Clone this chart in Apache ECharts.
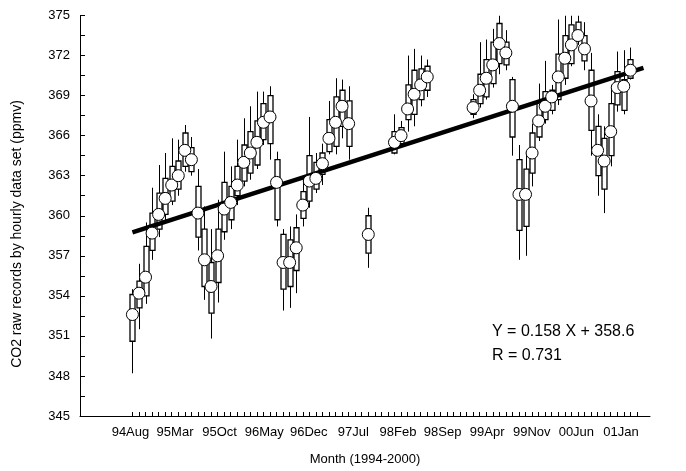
<!DOCTYPE html>
<html>
<head>
<meta charset="utf-8">
<script src="https://cdn.jsdelivr.net/npm/echarts@6.0.0/dist/echarts.min.js"></script>
<style>
    html, body { margin: 0; padding: 0; background: #fff; }
    #chart { width: 686px; height: 471px; }
</style>
</head>
<body>
<div id="chart"></div>
<script>
// month index, 0 = 1994 Aug
const months = [0, 1, 2, 3, 4, 5, 6, 7, 8, 9, 10, 11, 12, 13, 14, 15, 16, 17, 18, 19, 20, 21, 22, 23, 24, 25, 26, 27, 28, 29, 30, 31, 32, 33,
    36,
    40, 41, 42, 43, 44, 45,
    52, 53, 54, 55, 56, 57, 58, 59, 60, 61, 62, 63, 64, 65, 66, 67, 68, 69, 70, 71, 72, 73, 74, 75, 76];
const means = [352.6, 354.2, 355.4, 358.7, 360.1, 361.3, 362.3, 363.0, 364.9, 364.2, 360.2, 356.7, 354.7, 357.0, 360.5, 361.0, 362.3, 364.0, 364.7, 365.5, 367.0, 367.4, 362.5, 356.5, 356.5, 357.6, 360.8, 362.6, 362.8, 363.9, 365.8, 367.0, 368.2, 366.9,
    358.6,
    365.5, 366.0, 368.0, 369.1, 369.8, 370.4,
    368.1, 369.4, 370.3, 371.3, 372.9, 372.2, 368.2, 361.6, 361.6, 364.7, 367.1, 368.2, 368.9, 370.4, 371.8, 372.8, 373.5, 372.5, 368.6, 364.9, 364.1, 366.3, 369.6, 369.7, 370.9];
const lows = [348.2, 351.5, 353.4, 356.7, 358.4, 359.6, 360.8, 361.5, 363.3, 363.0, 357.4, 353.7, 350.8, 353.5, 358.2, 359.0, 360.8, 362.2, 362.7, 363.5, 365.3, 364.2, 359.2, 352.9, 353.1, 354.2, 359.2, 360.6, 361.7, 362.3, 364.6, 364.6, 365.8, 364.2,
    356.1,
    364.6, 365.2, 366.3, 366.7, 368.2, 368.9,
    367.3, 368.1, 368.7, 369.6, 370.6, 370.9, 364.5, 356.7, 357.0, 362.2, 365.6, 366.9, 367.6, 368.3, 369.8, 371.2, 372.8, 370.9, 364.5, 361.5, 360.2, 363.7, 367.8, 367.6, 370.2];
const q1s = [350.6, 353.1, 354.0, 357.4, 359.0, 360.1, 361.1, 362.0, 363.7, 363.3, 358.4, 354.7, 352.7, 355.0, 358.8, 359.7, 361.5, 362.6, 363.2, 363.8, 365.7, 365.4, 359.7, 354.5, 354.7, 355.9, 359.8, 361.1, 362.0, 363.1, 364.8, 365.2, 366.7, 365.2,
    357.2,
    364.7, 365.4, 367.2, 367.6, 368.7, 369.4,
    367.6, 368.4, 368.9, 369.9, 371.4, 371.3, 365.9, 358.9, 359.2, 363.2, 365.9, 367.2, 367.9, 368.7, 370.3, 371.4, 373.2, 371.6, 366.4, 363.0, 362.0, 364.5, 368.3, 367.9, 370.3];
const q3s = [354.1, 355.1, 357.7, 360.2, 361.7, 362.8, 363.7, 364.1, 366.2, 365.1, 362.2, 359.0, 356.5, 359.0, 362.5, 362.2, 363.7, 365.3, 366.3, 367.1, 368.4, 369.0, 364.2, 358.6, 358.2, 359.1, 361.8, 364.5, 364.0, 364.7, 367.2, 368.9, 369.4, 368.6,
    360.0,
    366.3, 366.6, 369.8, 370.9, 371.0, 371.2,
    368.7, 370.6, 371.7, 373.0, 374.4, 373.0, 370.2, 364.2, 363.5, 366.2, 368.6, 369.3, 369.4, 372.1, 373.5, 374.3, 374.5, 373.5, 370.9, 366.7, 365.8, 368.4, 370.8, 370.2, 371.7];
const highs = [354.5, 356.4, 359.5, 362.1, 363.8, 364.7, 365.8, 365.7, 366.8, 365.9, 363.5, 360.7, 359.0, 361.2, 364.8, 363.7, 365.7, 367.3, 368.2, 369.3, 369.3, 369.7, 364.8, 359.0, 359.2, 360.1, 363.0, 367.4, 364.7, 365.4, 368.6, 370.3, 370.2, 369.7,
    360.6,
    367.6, 367.1, 372.0, 372.5, 372.0, 371.7,
    369.1, 373.0, 373.2, 374.0, 375.0, 373.9, 370.4, 365.3, 364.8, 366.9, 369.9, 371.6, 369.8, 374.7, 375.0, 375.0, 375.0, 374.5, 372.2, 367.6, 366.7, 369.8, 372.3, 372.4, 372.6];

const tickLabels = ['94Aug', '95Mar', '95Oct', '96May', '96Dec', '97Jul', '98Feb', '98Sep', '99Apr', '99Nov', '00Jun', '01Jan'];
const tickMonths = [];
for (let i = 0; i <= 77; i++) {
    tickMonths.push(i);
}
// Y = 0.158 X + 358.6, X counted from 1
const slope = 0.158;
const intercept = 358.6;
const fitMonths = [0, 78];

const FONT = '"Liberation Sans", Arial, sans-serif';
// labels sit a little tighter than every 7th tick in the original
const labelStep = 6.806;
const labelOffset = -0.3;
const labelPos = tickLabels.map((t, i) => labelOffset + i * labelStep);

const boxData = months.map((m, i) => [m, lows[i], q1s[i], means[i], q3s[i], highs[i]]);
const meanData = months.map((m, i) => [m, means[i]]);
const fitData = fitMonths.map((m) => [m, slope * (m + 1) + intercept]);

function renderBox(params, api) {
    const m = api.value(0);
    const lo = api.coord([m, api.value(1)]);
    const q1 = api.coord([m, api.value(2)]);
    const q3 = api.coord([m, api.value(4)]);
    const hi = api.coord([m, api.value(5)]);
    const w = 5;
    const x = Math.round(lo[0]) + 0.5;
    return {
        type: 'group',
        children: [
            {
                type: 'line',
                shape: {x1: x, y1: lo[1], x2: x, y2: hi[1]},
                style: {stroke: '#000', lineWidth: 1},
            },
            {
                type: 'rect',
                shape: {x: x - w / 2, y: q3[1], width: w, height: q1[1] - q3[1]},
                style: {fill: '#fff', stroke: '#000', lineWidth: 1.3},
            },
        ],
    };
}

const chart = echarts.init(document.getElementById('chart'), null, {renderer: 'canvas'});
chart.setOption({
    animation: false,
    backgroundColor: '#fff',
    grid: {left: 80, right: 36, top: 15.5, bottom: 44},
    xAxis: {
        type: 'value',
        min: -8,
        max: 79,
        name: 'Month (1994-2000)',
        nameLocation: 'middle',
        nameGap: 37,
        nameTextStyle: {fontFamily: FONT, fontSize: 13, color: '#000'},
        axisLine: {onZero: false, lineStyle: {color: '#000', width: 1}},
        axisTick: {show: true, inside: true, length: 4, customValues: tickMonths, lineStyle: {color: '#000'}},
        axisLabel: {
            customValues: labelPos,
            formatter: (v) => tickLabels[Math.round((v - labelOffset) / labelStep)] || '',
            fontFamily: FONT,
            fontSize: 13,
            color: '#000',
            margin: 10,
        },
        splitLine: {show: false},
    },
    yAxis: {
        type: 'value',
        min: 345,
        max: 375,
        interval: 3,
        axisLine: {show: true, onZero: false, lineStyle: {color: '#000', width: 1}},
        axisTick: {show: true, inside: true, length: 5, lineStyle: {color: '#000'}},
        minorTick: {show: true, splitNumber: 2, length: 5, lineStyle: {color: '#000'}},
        axisLabel: {fontFamily: FONT, fontSize: 13, color: '#000', margin: 10},
        splitLine: {show: false},
    },
    series: [
        {
            type: 'custom',
            renderItem: renderBox,
            data: boxData,
            encode: {x: 0, y: [1, 2, 3, 4, 5]},
            z: 2,
            clip: true,
        },
        {
            type: 'line',
            data: fitData,
            symbol: 'none',
            lineStyle: {color: '#000', width: 4.5},
            z: 3,
        },
        {
            type: 'scatter',
            data: meanData,
            symbol: 'circle',
            symbolSize: 12,
            itemStyle: {color: '#fff', borderColor: '#000', borderWidth: 1, opacity: 1},
            z: 4,
        },
    ],
    graphic: [
        {
            type: 'text',
            x: 17,
            y: 234,
            rotation: Math.PI / 2,
            style: {
                text: 'CO2 raw records by hourly data set (ppmv)',
                font: '14px ' + FONT,
                fill: '#000',
                align: 'center',
                verticalAlign: 'middle',
            },
        },
        {
            type: 'text',
            left: 492,
            top: 324,
            style: {text: 'Y = 0.158 X + 358.6', font: '16px ' + FONT, fill: '#000'},
        },
        {
            type: 'text',
            left: 492,
            top: 348,
            style: {text: 'R = 0.731', font: '16px ' + FONT, fill: '#000'},
        },
    ],
});
</script>
</body>
</html>
